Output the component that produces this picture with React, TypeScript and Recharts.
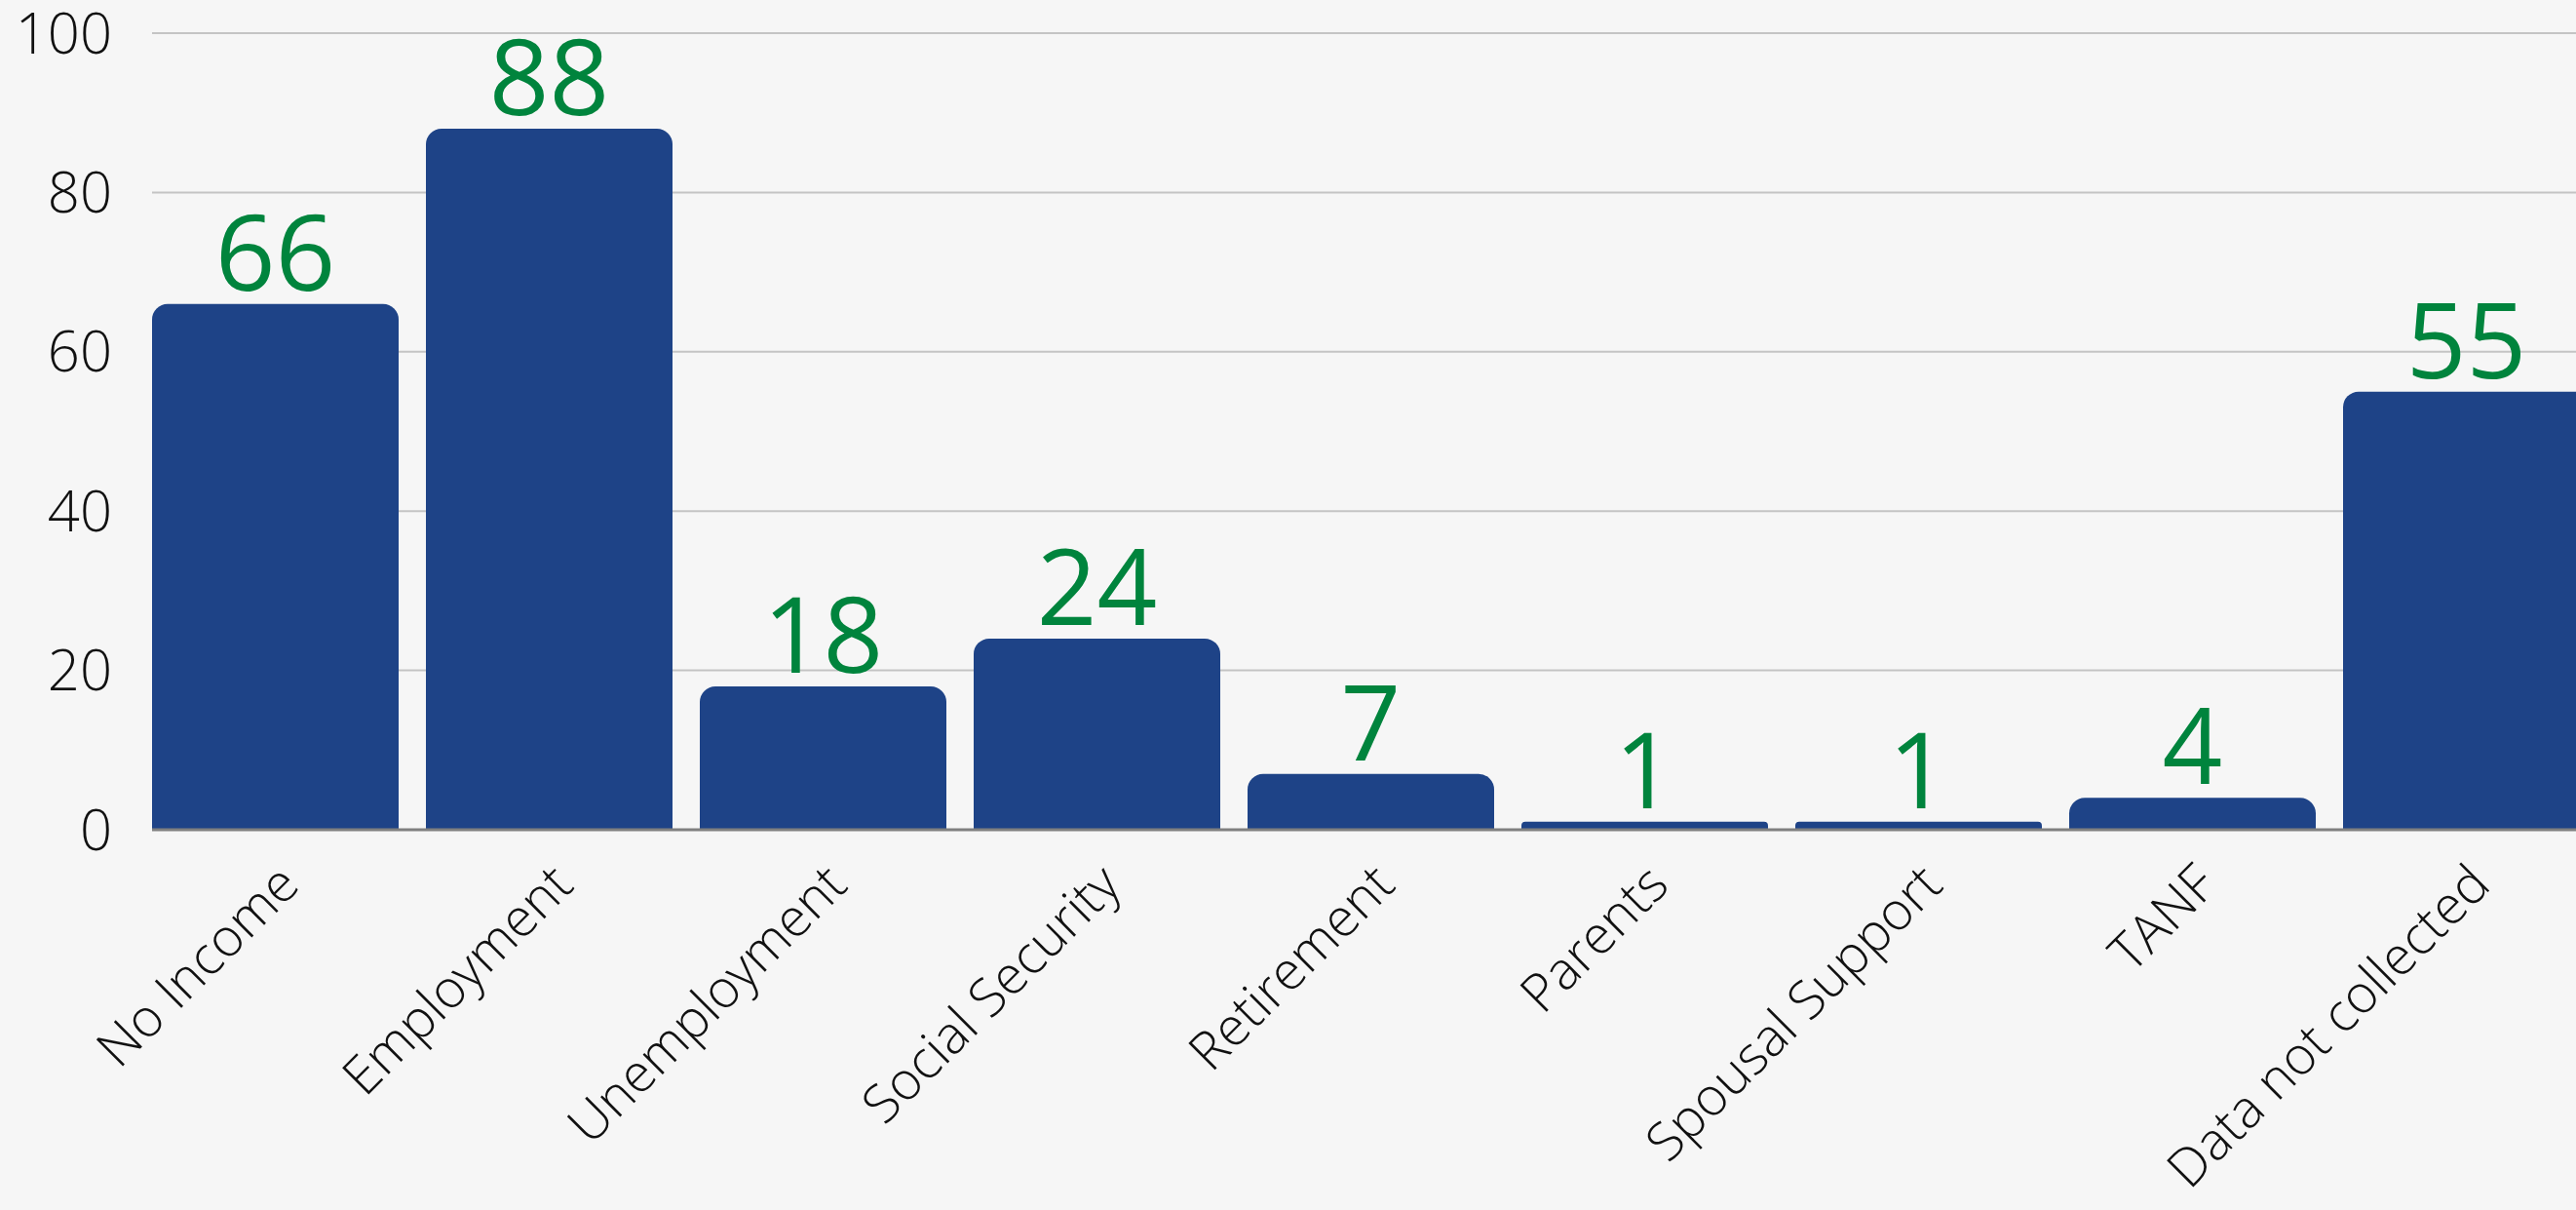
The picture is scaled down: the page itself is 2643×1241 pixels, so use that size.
import React from "react";
import { BarChart, Bar, XAxis, YAxis, CartesianGrid, LabelList } from "recharts";

const CATEGORIES = [
  "No Income",
  "Employment",
  "Unemployment",
  "Social Security",
  "Retirement",
  "Parents",
  "Spousal Support",
  "TANF",
  "Data not collected",
];
const COUNTS = [66, 88, 18, 24, 7, 1, 1, 4, 55];
const Y_TICKS = [0, 20, 40, 60, 80, 100];

const BAR_COLOR = "#1e4387";
const LABEL_COLOR = "#00843d";
const FONT = "'Open Sans', 'Noto Sans', sans-serif";

const data = CATEGORIES.map((name, i) => ({ name, value: COUNTS[i] }));

export default function App() {
  return (
    <div
      style={{
        position: "absolute",
        left: 0,
        top: 0,
        width: 2643,
        height: 1241,
        overflow: "hidden",
        background: "#f6f6f6",
        fontFamily: FONT,
      }}
    >
      <BarChart
        width={2671}
        height={1241}
        data={data}
        margin={{ top: 34, right: 0, bottom: 0, left: 0 }}
        barCategoryGap={14}
      >
        <CartesianGrid vertical={false} stroke="#c4c4c4" strokeWidth={2} />
        <XAxis
          dataKey="name"
          height={390}
          padding={{ left: -14, right: 0 }}
          interval={0}
          angle={-45}
          textAnchor="end"
          tickSize={0}
          tickMargin={32}
          axisLine={{ stroke: "#808080", strokeWidth: 3 }}
          tickLine={false}
          tick={{ fontSize: 54, fill: "#111", fontWeight: 300, fontFamily: FONT }}
        />
        <YAxis
          width={156}
          domain={[0, 100]}
          ticks={Y_TICKS}
          axisLine={false}
          tickLine={false}
          tickSize={0}
          tickMargin={41}
          tick={{ fontSize: 58, fill: "#111", fontWeight: 300, fontFamily: FONT }}
        />
        <Bar dataKey="value" fill={BAR_COLOR} radius={[16, 16, 0, 0]} isAnimationActive={false}>
          <LabelList
            dataKey="value"
            position="top"
            offset={14}
            fill={LABEL_COLOR}
            fontSize={108}
            fontFamily={FONT}
          />
        </Bar>
      </BarChart>
    </div>
  );
}
